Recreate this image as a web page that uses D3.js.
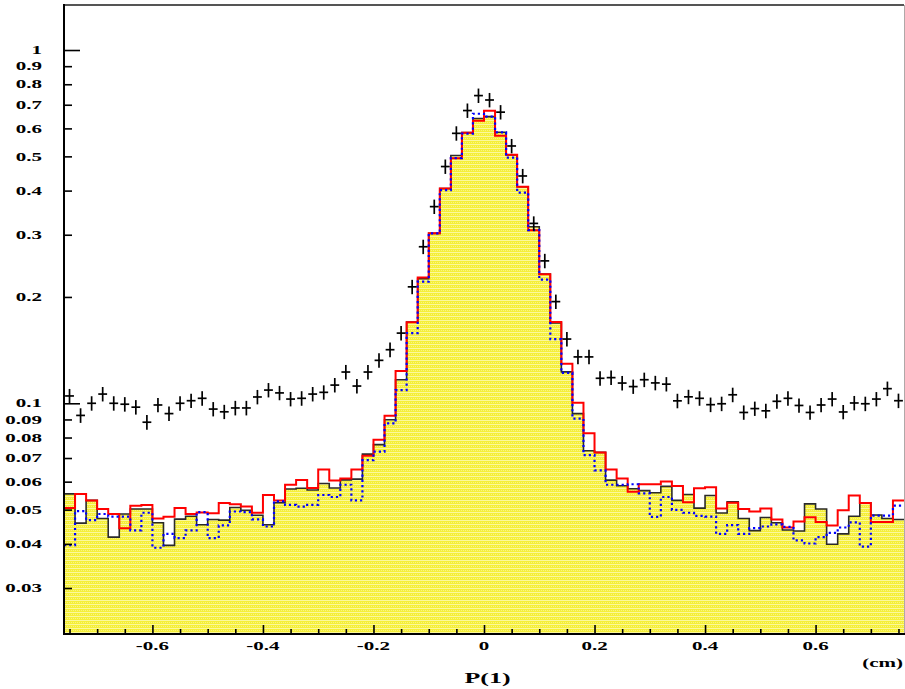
<!DOCTYPE html>
<html><head><meta charset="utf-8">
<script src="https://cdn.jsdelivr.net/npm/d3@7"></script>
<style>body{margin:0;background:#fff}svg{display:block}</style>
</head><body>
<svg id="c" width="905" height="689"></svg>
<script>
// ---- data ----
const binStart = -0.76, binWidth = 0.02, nBins = 76;
const simFilled = [0.0554,0.0458,0.0531,0.0472,0.0418,0.0486,0.0502,0.0502,0.0459,0.0396,
 0.0470,0.0479,0.0453,0.0469,0.0467,0.0507,0.0498,0.0482,0.0453,0.0523,
 0.0572,0.0575,0.0568,0.0593,0.0576,0.0607,0.0610,0.0718,0.0764,0.0898,
 0.1166,0.1697,0.2254,0.3027,0.4055,0.5026,0.5836,0.6400,0.6480,0.5850,
 0.5050,0.4100,0.3160,0.2320,0.1687,0.1227,0.0935,0.0734,0.0726,0.0606,
 0.0584,0.0573,0.0566,0.0558,0.0582,0.0531,0.0552,0.0505,0.0548,0.0489,
 0.0526,0.0472,0.0436,0.0475,0.0459,0.0438,0.0435,0.0519,0.0502,0.0399,
 0.0427,0.0479,0.0523,0.0483,0.0472,0.0469];
const simRed = [0.0505,0.0554,0.0531,0.0502,0.0486,0.0443,0.0513,0.0515,0.0472,0.0477,
 0.0505,0.0486,0.0491,0.0488,0.0522,0.0518,0.0510,0.0490,0.0550,0.0531,
 0.0588,0.0607,0.0576,0.0649,0.0605,0.0613,0.0649,0.0710,0.0788,0.0922,
 0.1235,0.1697,0.2270,0.3027,0.4055,0.4941,0.5836,0.6310,0.6730,0.5720,
 0.5050,0.4100,0.3090,0.2320,0.1700,0.1294,0.1004,0.0822,0.0726,0.0649,
 0.0613,0.0562,0.0590,0.0590,0.0601,0.0583,0.0525,0.0575,0.0579,0.0504,
 0.0523,0.0502,0.0494,0.0504,0.0469,0.0445,0.0463,0.0476,0.0461,0.0451,
 0.0498,0.0548,0.0522,0.0461,0.0461,0.0531];
const simBlue = [0.0397,0.0495,0.0467,0.0486,0.0478,0.0478,0.0437,0.0490,0.0390,0.0427,
 0.0415,0.0437,0.0492,0.0415,0.0451,0.0494,0.0492,0.0469,0.0448,0.0528,
 0.0516,0.0510,0.0516,0.0550,0.0543,0.0588,0.0531,0.0690,0.0730,0.0877,
 0.1090,0.1580,0.2210,0.3027,0.4010,0.4940,0.5800,0.6600,0.6480,0.5850,
 0.4960,0.3950,0.3090,0.2240,0.1520,0.1219,0.0905,0.0713,0.0646,0.0588,
 0.0588,0.0590,0.0556,0.0477,0.0543,0.0499,0.0490,0.0480,0.0478,0.0427,
 0.0452,0.0427,0.0443,0.0448,0.0454,0.0447,0.0409,0.0401,0.0418,0.0430,
 0.0445,0.0460,0.0393,0.0481,0.0481,0.0513];
const dataPts = [0.1049,0.0924,0.1000,0.1062,0.1000,0.0994,0.0975,0.0884,0.0989,0.0935,
 0.1000,0.1017,0.1033,0.0963,0.0946,0.0970,0.0970,0.1042,0.1090,0.1070,
 0.1028,0.1033,0.1062,0.1074,0.1126,0.1226,0.1119,0.1226,0.1323,0.1418,
 0.1580,0.2136,0.2774,0.3603,0.4679,0.5810,0.6740,0.7430,0.7220,0.6670,
 0.5350,0.4400,0.3230,0.2530,0.1940,0.1520,0.1353,0.1353,0.1177,0.1182,
 0.1141,0.1115,0.1166,0.1142,0.1133,0.1016,0.1043,0.1033,0.0991,0.0997,
 0.1057,0.0942,0.0966,0.0952,0.1013,0.1033,0.0986,0.0942,0.0989,0.1028,
 0.0945,0.1002,0.0997,0.1028,0.1100,0.1017];
const dataErr = [0.0049,0.0044,0.0047,0.0050,0.0047,0.0047,0.0046,0.0042,0.0046,0.0044,
 0.0047,0.0048,0.0049,0.0045,0.0044,0.0046,0.0046,0.0049,0.0051,0.0050,
 0.0048,0.0049,0.0050,0.0050,0.0053,0.0058,0.0053,0.0058,0.0062,0.0067,
 0.0074,0.0100,0.0130,0.0169,0.0220,0.0273,0.0317,0.0349,0.0339,0.0313,
 0.0251,0.0207,0.0152,0.0119,0.0091,0.0071,0.0064,0.0064,0.0055,0.0056,
 0.0054,0.0052,0.0055,0.0054,0.0053,0.0048,0.0049,0.0049,0.0047,0.0047,
 0.0050,0.0044,0.0045,0.0045,0.0048,0.0049,0.0046,0.0044,0.0046,0.0048,
 0.0044,0.0047,0.0047,0.0048,0.0052,0.0048];
const xTickLabels = ["-0.6","-0.4","-0.2","0","0.2","0.4","0.6"];
const xMajorTicks = [-0.6,-0.4,-0.2,0,0.2,0.4,0.6];
const xMinorTicks = [-0.75,-0.7,-0.65,-0.55,-0.5,-0.45,-0.35,-0.3,-0.25,-0.15,-0.1,-0.05,0.05,0.1,0.15,0.25,0.3,0.35,0.45,0.5,0.55,0.65,0.7,0.75];
const yTicks = [1,0.9,0.8,0.7,0.6,0.5,0.4,0.3,0.2,0.1,0.09,0.08,0.07,0.06,0.05,0.04,0.03];
const yTickLabels = ["1","0.9","0.8","0.7","0.6","0.5","0.4","0.3","0.2","0.1","0.09","0.08","0.07","0.06","0.05","0.04","0.03"];
const yMajorTicks = [1,0.1];
const xTitle = "P(1)", xUnit = "(cm)";

// ---- drawing ----
const svg = d3.select("#c");
const L = 64, R = 904, T = 5, B = 634;
const x = d3.scaleLinear().domain([-0.76, 0.76]).range([L, R]);
const y = d3.scaleLog().domain([0.02223, 1.341]).range([B, T]);
const edges = d3.range(nBins + 1).map(i => binStart + i * binWidth);
const centers = d3.range(nBins).map(i => binStart + (i + 0.5) * binWidth);

const defs = svg.append("defs");
const pat = defs.append("pattern").attr("id","yel").attr("patternUnits","userSpaceOnUse")
  .attr("width",4).attr("height",4);
pat.append("rect").attr("width",4).attr("height",4).attr("fill","#f5ef38");
pat.append("rect").attr("y",0).attr("width",4).attr("height",1).attr("fill","#fbf89c");
pat.append("rect").attr("x",1).attr("y",2).attr("width",1).attr("height",1).attr("fill","#f9f480");
pat.append("rect").attr("x",3).attr("y",2).attr("width",1).attr("height",1).attr("fill","#f9f480");

svg.append("clipPath").attr("id","clip").append("rect").attr("x",L).attr("y",T).attr("width",R-L).attr("height",B-T);
const g = svg.append("g").attr("clip-path","url(#clip)");

function stepPts(vals){ const p = vals.map((v,i)=>[edges[i], v]); p.push([edges[nBins], vals[nBins-1]]); return p; }
const line = d3.line().x(d=>x(d[0])).y(d=>y(d[1])).curve(d3.curveStepAfter);
const area = d3.area().x(d=>x(d[0])).y0(B).y1(d=>y(d[1])).curve(d3.curveStepAfter);

g.append("path").attr("d", area(stepPts(simFilled))).attr("fill","url(#yel)");
g.append("path").attr("d", line(stepPts(simFilled))).attr("fill","none").attr("stroke","#2a2a2a").attr("stroke-width",1.6);
g.append("path").attr("d", line(stepPts(simRed))).attr("fill","none").attr("stroke","#ff0000").attr("stroke-width",2);
g.append("path").attr("d", line(stepPts(simBlue))).attr("fill","none").attr("stroke","#0000ff").attr("stroke-width",2.2).attr("stroke-dasharray","2.2,3");

const cr = g.append("g").attr("stroke","#000").attr("stroke-width",1.7);
dataPts.forEach((v,i)=>{
  cr.append("line").attr("x1",x(centers[i])).attr("x2",x(centers[i])).attr("y1",y(v+dataErr[i])).attr("y2",y(v-dataErr[i]));
  cr.append("line").attr("x1",x(centers[i]-0.008)).attr("x2",x(centers[i]+0.008)).attr("y1",y(v)).attr("y2",y(v));
});

// frame
svg.append("line").attr("x1",L).attr("x2",R).attr("y1",T).attr("y2",T).attr("stroke","#555").attr("stroke-width",2);
svg.append("line").attr("x1",R+0.5).attr("x2",R+0.5).attr("y1",T).attr("y2",B).attr("stroke","#b0a8a8").attr("stroke-width",1);

// axes ticks
const ax = svg.append("g").attr("transform",`translate(0,${B})`);
ax.call(d3.axisBottom(x).tickValues(xMinorTicks).tickSize(-5).tickFormat(""));
const ax2 = svg.append("g").attr("transform",`translate(0,${B})`);
ax2.call(d3.axisBottom(x).tickValues(xMajorTicks).tickSize(-9).tickFormat(""));
const ay = svg.append("g").attr("transform",`translate(${L},0)`);
ay.call(d3.axisLeft(y).tickValues(yTicks.filter(v=>!yMajorTicks.includes(v))).tickSize(-8).tickFormat(""));
const ay2 = svg.append("g").attr("transform",`translate(${L},0)`);
ay2.call(d3.axisLeft(y).tickValues(yMajorTicks).tickSize(-16).tickFormat(""));
svg.selectAll(".domain").remove();
svg.selectAll(".tick line").attr("stroke","#000").attr("stroke-width",1.6);

svg.append("line").attr("x1",L).attr("x2",L).attr("y1",T-1).attr("y2",B+1).attr("stroke","#000").attr("stroke-width",2);
svg.append("line").attr("x1",L-1).attr("x2",R+1).attr("y1",B).attr("y2",B).attr("stroke","#000").attr("stroke-width",2);

const font = "'Liberation Serif','Times New Roman',serif";
yTicks.forEach((v,i)=>{
  svg.append("text").attr("transform",`translate(42,${y(v)+4.2}) scale(1.75,1)`)
    .attr("text-anchor","end").attr("font-family",font).attr("font-weight","bold").attr("font-size",12)
    .text(yTickLabels[i]);
});
xMajorTicks.forEach((v,i)=>{
  svg.append("text").attr("transform",`translate(${x(v)},649.5) scale(1.75,1)`)
    .attr("text-anchor","middle").attr("font-family",font).attr("font-weight","bold").attr("font-size",12)
    .text(xTickLabels[i]);
});
svg.append("text").attr("transform","translate(487.5,683) scale(1.85,1)")
  .attr("text-anchor","middle").attr("font-family",font).attr("font-weight","bold").attr("font-size",14).text(xTitle);
svg.append("text").attr("transform","translate(903,667) scale(1.75,1)")
  .attr("text-anchor","end").attr("font-family",font).attr("font-weight","bold").attr("font-size",12).text(xUnit);
</script>
</body></html>
